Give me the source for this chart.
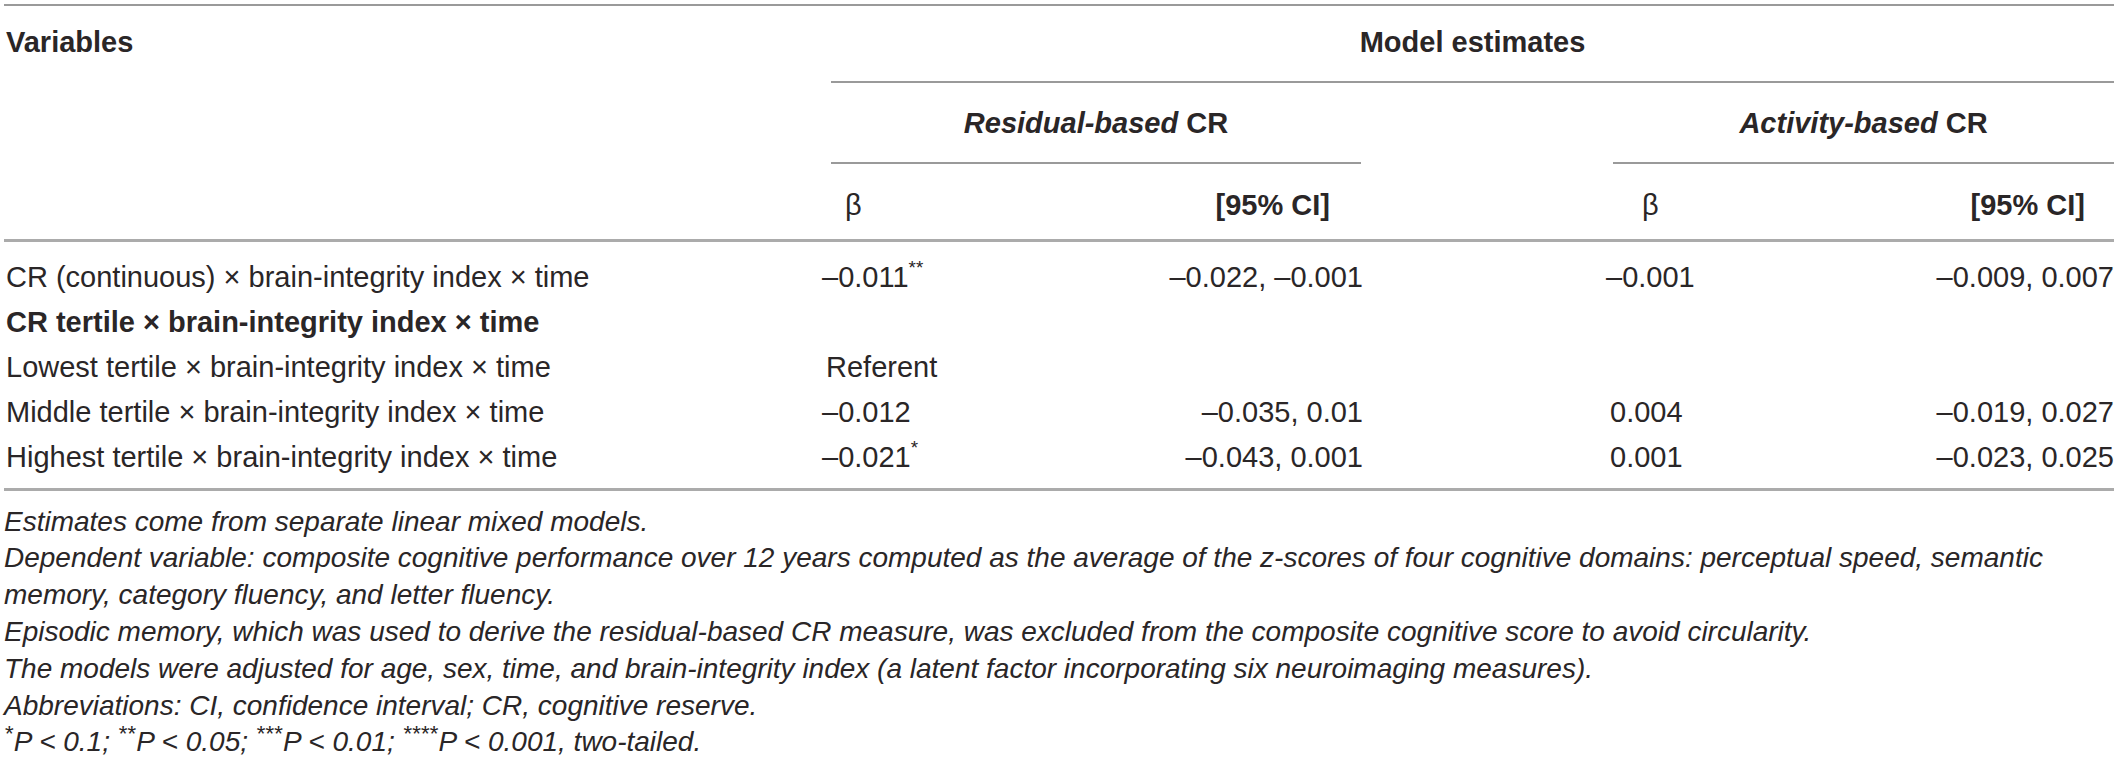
<!DOCTYPE html>
<html>
<head>
<meta charset="utf-8">
<script src="https://cdn.jsdelivr.net/npm/chart.js@4"></script>
<style>
  html, body { margin:0; padding:0; background:#fff; }
  #sheet { position:relative; width:2120px; height:761px; overflow:hidden;
    font-family:"Liberation Sans", Arial, sans-serif; color:#2a2627; }
  .t { position:absolute; white-space:nowrap; font-size:29px; height:40px; line-height:40px; }
  .b { font-weight:bold; }
  .r { text-align:right; }
  .c { text-align:center; }
  .rule { position:absolute; height:2px; background:#9a9a9a; }
  .rule.thick { height:3px; background:#ababab; }
  sup { font-size:0.65em; line-height:0; vertical-align:0.7em; }
  #notes { position:absolute; left:4px; width:2112px; font-size:28px; font-style:italic; line-height:36.8px; }
  #notes sup { font-size:0.8em; vertical-align:0.45em; margin-right:1px; }
</style>
</head>
<body>
<div id="sheet"></div>
<script>
// Table content
const stubHeader = 'Variables';
const spanHeader = 'Model estimates';
const groups = [['Residual-based', ' CR'], ['Activity-based', ' CR']];
const colHeaders = ['β', '[95% CI]', 'β', '[95% CI]'];
const rowLabels = [
  'CR (continuous) × brain-integrity index × time',
  'CR tertile × brain-integrity index × time',
  'Lowest tertile × brain-integrity index × time',
  'Middle tertile × brain-integrity index × time',
  'Highest tertile × brain-integrity index × time'
];
const rowBold = [false, true, false, false, false];
const resBeta = ['–0.011', '', 'Referent', '–0.012', '–0.021'];
const resSig = ['**', '', '', '', '*'];
const resCI = ['–0.022, –0.001', '', '', '–0.035, 0.01', '–0.043, 0.001'];
const actBeta = ['–0.001', '', '', '0.004', '0.001'];
const actCI = ['–0.009, 0.007', '', '', '–0.019, 0.027', '–0.023, 0.025'];
const footnotes = [
  'Estimates come from separate linear mixed models.',
  'Dependent variable: composite cognitive performance over 12 years computed as the average of the z-scores of four cognitive domains: perceptual speed, semantic memory, category fluency, and letter fluency.',
  'Episodic memory, which was used to derive the residual-based CR measure, was excluded from the composite cognitive score to avoid circularity.',
  'The models were adjusted for age, sex, time, and brain-integrity index (a latent factor incorporating six neuroimaging measures).',
  'Abbreviations: CI, confidence interval; CR, cognitive reserve.',
  '<sup>*</sup>P &lt; 0.1; <sup>**</sup>P &lt; 0.05; <sup>***</sup>P &lt; 0.01; <sup>****</sup>P &lt; 0.001, two-tailed.'
];

(function(){
  const sheet = document.getElementById('sheet');
  const L = 4, R = 2114;
  const colX = { resL: 831, resR: 1361, actL: 1613, actR: 2114 };

  // align: 'l' (x = left edge), 'r' (x = right edge), 'c' (x = centre)
  function text(html, x, y, align, bold, width){
    const d = document.createElement('div');
    d.className = 't' + (bold ? ' b' : '') + (align === 'r' ? ' r' : align === 'c' ? ' c' : '');
    d.innerHTML = html;
    d.style.top = (y - 20) + 'px';
    if (align === 'r') d.style.right = (2120 - x) + 'px';
    else if (align === 'c') { d.style.left = (x - width/2) + 'px'; d.style.width = width + 'px'; }
    else d.style.left = x + 'px';
    sheet.appendChild(d);
    return d;
  }
  function rule(x1, x2, y, thick){
    const d = document.createElement('div');
    d.className = 'rule' + (thick ? ' thick' : '');
    d.style.left = x1 + 'px'; d.style.width = (x2 - x1) + 'px'; d.style.top = (y - 1) + 'px';
    sheet.appendChild(d);
  }

  // header
  rule(L, R, 5);
  text(stubHeader, L + 2, 42, 'l', true);
  text(spanHeader, (colX.resL + colX.actR) / 2, 42, 'c', true, 600);
  rule(colX.resL, R, 82);
  text('<i>' + groups[0][0] + '</i>' + groups[0][1], (colX.resL + colX.resR) / 2, 123, 'c', true, 500);
  text('<i>' + groups[1][0] + '</i>' + groups[1][1], (colX.actL + colX.actR) / 2, 123, 'c', true, 500);
  rule(colX.resL, colX.resR, 163);
  rule(colX.actL, colX.actR, 163);
  text(colHeaders[0], 845, 205, 'l', false);
  text(colHeaders[1], 1330, 205, 'r', true);
  text(colHeaders[2], 1642, 205, 'l', false);
  text(colHeaders[3], 2085, 205, 'r', true);
  rule(L, R, 240, true);

  // body rows
  rowLabels.forEach((lab, i) => {
    const y = 277 + 45 * i;
    text(lab, L + 2, y, 'l', rowBold[i]);
    if (resBeta[i]) text(resBeta[i] + (resSig[i] ? '<sup>' + resSig[i] + '</sup>' : ''), resBeta[i] === 'Referent' ? 826 : 822, y, 'l');
    if (resCI[i]) text(resCI[i], colX.resR + 2, y, 'r');
    if (actBeta[i]) text(actBeta[i], actBeta[i][0] === '–' ? 1606 : 1610, y, 'l');
    if (actCI[i]) text(actCI[i], colX.actR, y, 'r');
  });
  rule(L, R, 489, true);

  // footnotes
  const notes = document.createElement('div');
  notes.id = 'notes';
  notes.style.top = (522 - 18.4) + 'px';
  notes.innerHTML = footnotes.map(f => '<div>' + f + '</div>').join('');
  sheet.appendChild(notes);
})();
</script>
</body>
</html>
